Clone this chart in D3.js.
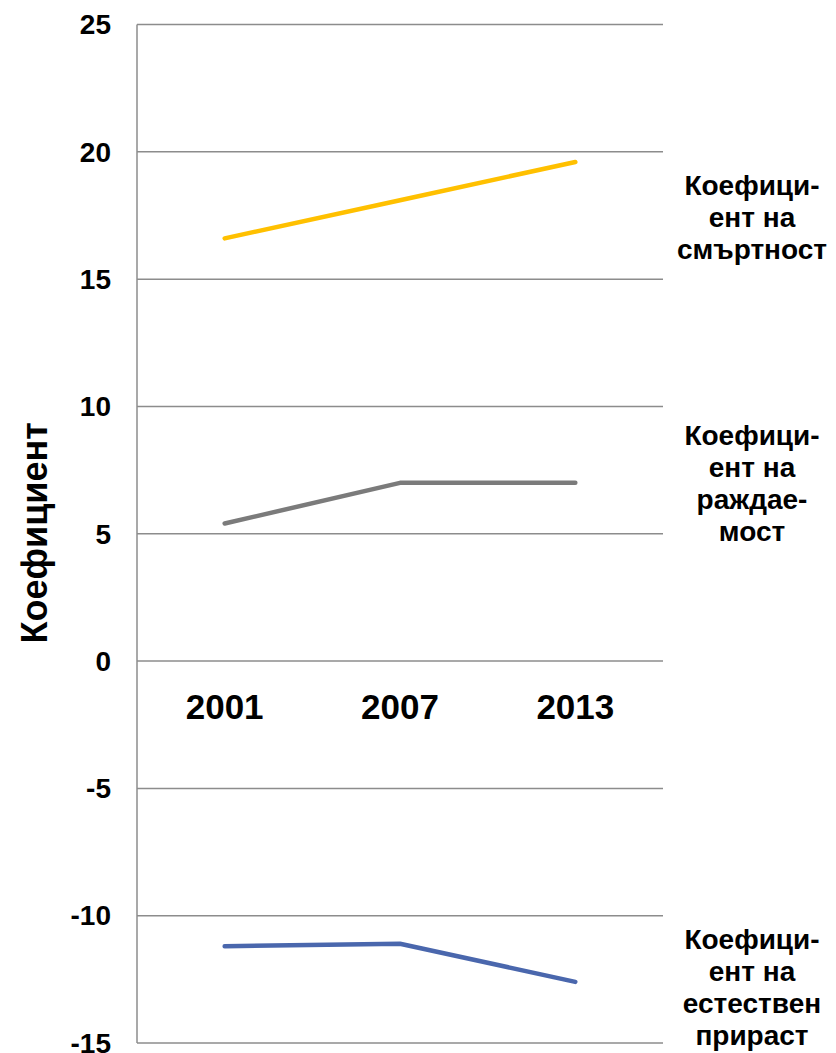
<!DOCTYPE html>
<meta charset="utf-8">
<style>
    body { margin: 0; background: #fff; }
    text { font-family: "Liberation Sans", Arial, sans-serif; font-weight: bold; fill: #000; }
</style>
<body>
<script src="https://cdn.jsdelivr.net/npm/d3@7"></script>
<script>
    var width = 836,
        height = 1053;

    // data
    var years = ["2001", "2007", "2013"];
    var mortality = [16.6, 18.1, 19.6];
    var birth = [5.4, 7.0, 7.0];
    var natural = [-11.2, -11.1, -12.6];
    var yTicks = [-15, -10, -5, 0, 5, 10, 15, 20, 25];
    var seriesNames = [
        ["Коефици-", "ент на", "смъртност"],
        ["Коефици-", "ент на", "раждае-", "мост"],
        ["Коефици-", "ент на", "естествен", "прираст"]
    ];
    var seriesColors = ["#ffc000", "#7b7b7b", "#4a67ad"];
    var labelShift = [55, 0, 5]; // px shift of each end label block

    var series = [mortality, birth, natural].map(function (v, i) {
        return {values: v, names: seriesNames[i], color: seriesColors[i], shift: labelShift[i]};
    });

    var plot = {left: 137, right: 663, top: 24.5, bottom: 1043};

    var x = d3.scaleBand()
        .domain(years)
        .range([plot.left, plot.right]);

    var y = d3.scaleLinear()
        .domain([-15, 25])
        .range([plot.bottom, plot.top]);

    var svg = d3.select('body')
        .append('svg')
        .attr('width', width)
        .attr('height', height);

    // gridlines
    svg.append('g')
        .selectAll('line')
        .data(yTicks)
        .enter().append('line')
        .attr('x1', plot.left)
        .attr('x2', plot.right)
        .attr('y1', d => y(d))
        .attr('y2', d => y(d))
        .attr('stroke', '#8c8c8c')
        .attr('stroke-width', 1.5);

    // left axis line
    svg.append('line')
        .attr('x1', plot.left)
        .attr('x2', plot.left)
        .attr('y1', y(25))
        .attr('y2', y(-15))
        .attr('stroke', '#8c8c8c')
        .attr('stroke-width', 1.5);

    // y tick labels
    svg.append('g')
        .selectAll('text')
        .data(yTicks)
        .enter().append('text')
        .attr('x', 111)
        .attr('y', d => y(d))
        .attr('dy', '0.35em')
        .attr('text-anchor', 'end')
        .style('font-size', '28px')
        .text(d => d);

    // year labels
    svg.append('g')
        .selectAll('text')
        .data(years)
        .enter().append('text')
        .attr('x', d => x(d) + x.bandwidth() / 2)
        .attr('y', 719)
        .attr('text-anchor', 'middle')
        .style('font-size', '35px')
        .text(d => d);

    // y axis title
    svg.append('text')
        .attr('transform', 'translate(47,' + ((plot.top + plot.bottom) / 2 - 1) + ') rotate(-90)')
        .attr('text-anchor', 'middle')
        .style('font-size', '36px')
        .text('Коефициент');

    var line = d3.line()
        .x((d, i) => x(years[i]) + x.bandwidth() / 2)
        .y(d => y(d));

    svg.append('g')
        .selectAll('path')
        .data(series)
        .enter().append('path')
        .attr('d', d => line(d.values))
        .attr('fill', 'none')
        .attr('stroke', d => d.color)
        .attr('stroke-width', 4.5)
        .attr('stroke-linecap', 'round')
        .attr('stroke-linejoin', 'round');

    // end labels
    var lineH = 32;
    var labels = svg.append('g')
        .selectAll('text')
        .data(series)
        .enter().append('text')
        .attr('text-anchor', 'middle')
        .style('font-size', '28px');

    labels.each(function (d) {
        var n = d.names.length;
        var cy = y(d.values[d.values.length - 1]) + d.shift;
        var first = cy - (n - 1) * lineH / 2 + 10;
        d3.select(this).selectAll('tspan')
            .data(d.names)
            .enter().append('tspan')
            .attr('x', 752)
            .attr('y', (t, i) => first + i * lineH)
            .text(t => t);
    });
</script>
</body>
</html>
